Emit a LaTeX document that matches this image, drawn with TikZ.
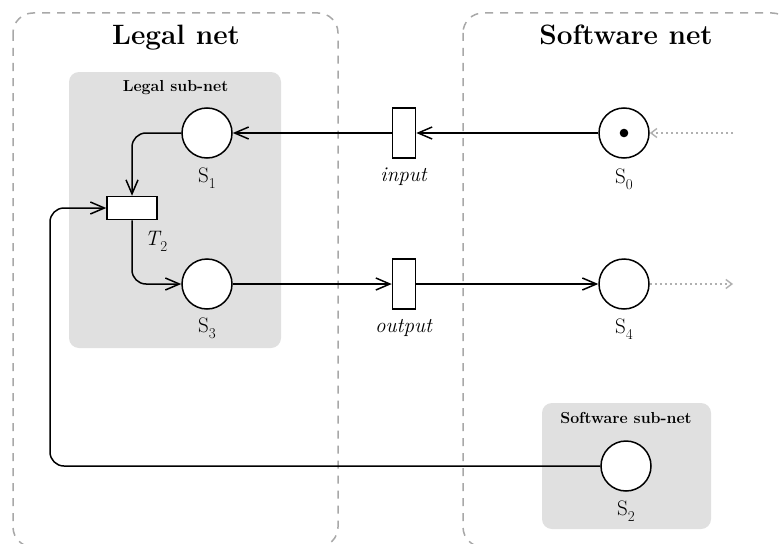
\documentclass[tikz,border=0pt]{standalone}
\usetikzlibrary{arrows.meta}
\definecolor{boxgray}{HTML}{A8A8A8}
\definecolor{subgray}{HTML}{E0E0E0}
\definecolor{dotgray}{HTML}{B0B0B0}
\newcommand{\subx}[1]{\raisebox{-0.3em}{\fontsize{15}{16}\selectfont #1}}
\begin{document}
\begin{tikzpicture}[x=1pt,y=-1pt,
  place/.style={circle,draw,line width=1.5pt,fill=white,minimum size=50pt,inner sep=0pt},
  trans/.style={rectangle,draw,line width=1.5pt,fill=white,inner sep=0pt},
  arc/.style={line width=1.5pt,rounded corners=14pt,-{Straight Barb[length=14pt,width=12pt]}},
  dotarc/.style={line width=1.4pt,dotgray,dash pattern=on 2.5pt off 2.5pt,-{Straight Barb[length=6pt,width=9pt]}},
  netbox/.style={draw=boxgray,line width=1.5pt,dash pattern=on 8pt off 7pt,rounded corners=20pt},
  subnet/.style={fill=subgray,rounded corners=10pt},
  lbl/.style={anchor=base,font=\fontsize{21}{24}\selectfont,inner sep=0pt},
  title/.style={anchor=base,font=\fontsize{28}{32}\selectfont\bfseries,inner sep=0pt},
  subtitle/.style={anchor=base,font=\fontsize{15.9}{18}\selectfont\bfseries,inner sep=0pt}
]
\useasboundingbox (0,0) rectangle (781,543);
\fill[white] (0,0) rectangle (781,543);
% net boxes
\draw[netbox] (13,13) rectangle (338,547);
\draw[netbox] (463,13) rectangle (792,547);
% sub-net boxes
\fill[subnet] (69,72) rectangle (281,348);
\fill[subnet] (542,403) rectangle (711,529);
% titles
\node[title] (legalnet) at (176,45) {Legal net};
\node[title] (softnet) at (626,45) {Software net};
\node[subtitle] (legalsub) at (175.5,91) {Legal sub-net};
\node[subtitle] (softsub) at (626,423) {Software sub-net};
% places
\node[place] (S1) at (207,133) {};
\node[place] (S3) at (207,284) {};
\node[place] (S0) at (624,133) {};
\node[place] (S4) at (624,284) {};
\node[place] (S2) at (626,466) {};
\fill (S0.center) circle (4.3pt);
% transitions
\node[trans,minimum width=50pt,minimum height=23pt] (T2) at (132,208) {};
\node[trans,minimum width=23pt,minimum height=50pt] (input) at (404,133) {};
\node[trans,minimum width=23pt,minimum height=50pt] (output) at (404,284) {};
% labels
\node[lbl] (lS1) at (207,182) {S\subx{1}};
\node[lbl] (lS3) at (207,332) {S\subx{3}};
\node[lbl] (lS0) at (624,183) {S\subx{0}};
\node[lbl] (lS4) at (624,333) {S\subx{4}};
\node[lbl] (lS2) at (626,515) {S\subx{2}};
\node[lbl] (lT2) at (156,245) {\textit{T}\kern-0.05em\subx{2}};
\node[lbl] (linput) at (404,181) {\textit{input}};
\node[lbl] (loutput) at (404,332) {\textit{output}};
% connectors
\coordinate (lb) at (50,300);
\coordinate (inS0) at (733,133);
\coordinate (outS4) at (733,284);
\draw[arc] (S0.west) -- (input.east);
\draw[arc] (input.west) -- (S1.east);
\draw[arc] (S1.west) -| (T2.north);
\draw[arc] (T2.south) |- (S3.west);
\draw[arc] (S3.east) -- (output.west);
\draw[arc] (output.east) -- (S4.west);
\draw[arc] (S2.west) -- (S2.west -| lb) -- (lb |- T2.west) -- (T2.west);
\draw[dotarc] (inS0) -- (S0.east);
\draw[dotarc] (S4.east) -- (outS4);
\end{tikzpicture}
\end{document}
